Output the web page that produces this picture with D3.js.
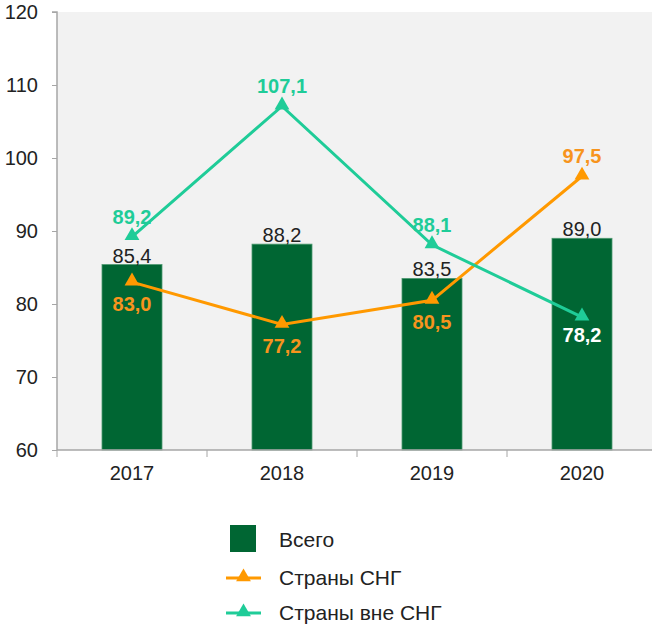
<!DOCTYPE html>
<html>
<head>
<meta charset="utf-8">
<script src="https://d3js.org/d3.v7.min.js"></script>
<style>
  body { margin: 0; background: #fff; font-family: "Liberation Sans", Arial, sans-serif; }
</style>
</head>
<body>
<div id="chart"></div>
<script>
  const years = ["2017", "2018", "2019", "2020"];
  const total = [85.4, 88.2, 83.5, 89.0];
  const cis = [83.0, 77.2, 80.5, 97.5];
  const nonCis = [89.2, 107.1, 88.1, 78.2];
  const yTicks = [60, 70, 80, 90, 100, 110, 120];
  // label placement: above (-1) or below (+1) the marker
  const cisPos = [1, 1, 1, -1];
  const nonCisPos = [-1, -1, -1, 1];

  const W = 652, H = 628;
  const mLeft = 57, mTop = 12, mRight = 657, mBottom = 450;

  const svg = d3.select("#chart").append("svg")
    .attr("width", W).attr("height", H);

  const x = d3.scaleBand().domain(years).range([mLeft, mRight]).paddingInner(0.6).paddingOuter(0.3);
  const xb = d3.scaleBand().domain(years).range([mLeft, mRight]);
  const y = d3.scaleLinear().domain([60, 120]).range([mBottom, mTop]);

  svg.append("rect")
    .attr("x", mLeft).attr("y", mTop)
    .attr("width", W - mLeft).attr("height", mBottom - mTop)
    .attr("fill", "#f2f2f2");

  const fmt = v => v.toFixed(1).replace(".", ",");

  // bars
  svg.selectAll("rect.bar").data(total).enter().append("rect")
    .attr("class", "bar")
    .attr("x", (d, i) => x(years[i]))
    .attr("width", x.bandwidth())
    .attr("y", d => y(d))
    .attr("height", d => mBottom - y(d))
    .attr("fill", "#006633")
    .attr("stroke", "#4d9970")
    .attr("stroke-width", 0.8);

  svg.selectAll("text.bar-label").data(total).enter().append("text")
    .attr("x", (d, i) => xb(years[i]) + xb.bandwidth() / 2)
    .attr("y", d => y(d) - 2)
    .attr("text-anchor", "middle")
    .attr("font-size", 20)
    .attr("fill", "#222")
    .text(fmt);

  // axes
  const yAxis = svg.append("g").attr("transform", `translate(${mLeft},0)`)
    .call(d3.axisLeft(y).tickValues(yTicks).tickSize(5).tickPadding(14).tickFormat(d3.format("d")));
  yAxis.selectAll("line").attr("stroke", "#a6a6a6");
  yAxis.select(".domain").attr("stroke", "#a6a6a6").attr("stroke-width", 1.5).attr("d", `M-5,${mTop}H0V${mBottom}`);
  yAxis.selectAll("text").attr("font-size", 20).attr("fill", "#222")
    .attr("font-family", "Liberation Sans, Arial, sans-serif");

  const xAxis = svg.append("g").attr("transform", `translate(0,${mBottom})`);
  xAxis.append("line").attr("x1", mLeft).attr("x2", W).attr("y1", 0).attr("y2", 0)
    .attr("stroke", "#a6a6a6").attr("stroke-width", 1.5);
  xAxis.selectAll("line.tk").data(years).enter().append("line")
    .attr("class", "tk")
    .attr("x1", d => xb(d)).attr("x2", d => xb(d))
    .attr("y1", 0).attr("y2", 7)
    .attr("stroke", "#a6a6a6");
  xAxis.selectAll("text").data(years).enter().append("text")
    .attr("x", d => xb(d) + xb.bandwidth() / 2)
    .attr("y", 30)
    .attr("text-anchor", "middle")
    .attr("font-size", 20)
    .attr("fill", "#222")
    .text(d => d);

  const tri = d3.symbol().type(d3.symbolTriangle).size(95);

  function drawSeries(values, color, labelColor, pos, below) {
    const line = d3.line()
      .x((d, i) => xb(years[i]) + xb.bandwidth() / 2)
      .y(d => y(d));
    svg.append("path").datum(values)
      .attr("d", line)
      .attr("fill", "none")
      .attr("stroke", color)
      .attr("stroke-width", 3);
    svg.selectAll(null).data(values).enter().append("path")
      .attr("d", tri)
      .attr("transform", (d, i) => `translate(${xb(years[i]) + xb.bandwidth() / 2},${y(d) - 1})`)
      .attr("fill", color);
    svg.selectAll(null).data(values).enter().append("text")
      .attr("x", (d, i) => xb(years[i]) + xb.bandwidth() / 2)
      .attr("y", (d, i) => pos[i] < 0 ? y(d) - 13 : y(d) + below)
      .attr("text-anchor", "middle")
      .attr("font-size", 20)
      .attr("font-weight", "bold")
      .attr("fill", (d, i) => typeof labelColor === "function" ? labelColor(i) : labelColor)
      .text(fmt);
  }

  drawSeries(cis, "#ff9900", "#f7941d", cisPos, 29);
  drawSeries(nonCis, "#1fcc98", i => i === 3 ? "#ffffff" : "#1fcc98", nonCisPos, 25);

  // legend
  const legend = svg.append("g");
  legend.append("rect").attr("x", 230).attr("y", 525).attr("width", 26).attr("height", 27).attr("fill", "#006633");
  const items = [
    { label: "Всего", y: 540 },
    { label: "Страны СНГ", y: 578, color: "#ff9900" },
    { label: "Страны вне СНГ", y: 613, color: "#1fcc98" }
  ];
  items.forEach(it => {
    if (it.color) {
      legend.append("line").attr("x1", 226).attr("x2", 261).attr("y1", it.y).attr("y2", it.y)
        .attr("stroke", it.color).attr("stroke-width", 3);
      legend.append("path").attr("d", tri).attr("transform", `translate(243.5,${it.y - 1})`).attr("fill", it.color);
    }
    legend.append("text").attr("x", 279).attr("y", it.y + 7)
      .attr("font-size", 21).attr("fill", "#222").text(it.label);
  });
</script>
</body>
</html>
